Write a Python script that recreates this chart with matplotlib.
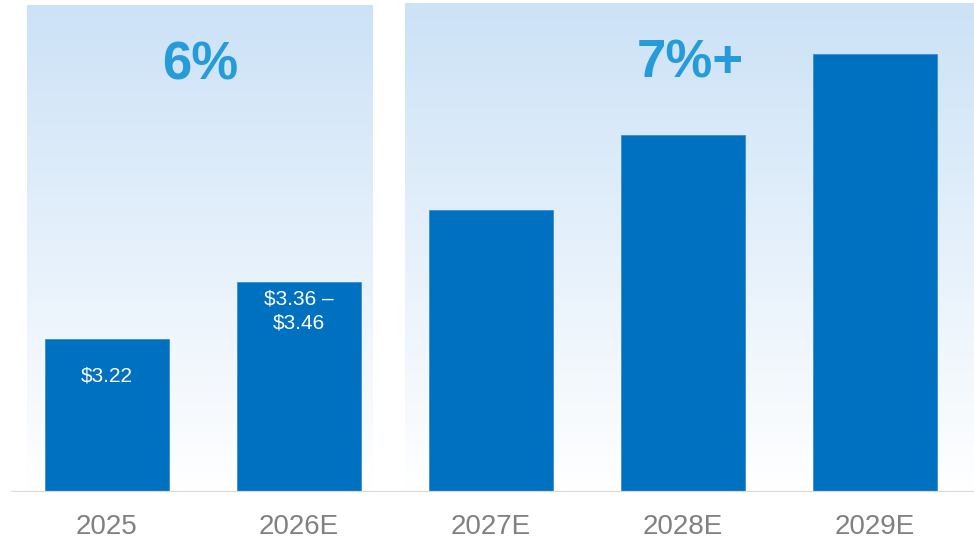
import matplotlib
matplotlib.use('Agg')

import matplotlib.pyplot as plt
import numpy as np
from matplotlib.colors import LinearSegmentedColormap

# Chart data
years = ['2025', '2026E', '2027E', '2028E', '2029E']
eps = [3.22, 3.41, 3.65, 3.90, 4.17]          # midpoint used for 2026E range
bar_labels = ['$3.22', '$3.36 –\n$3.46', '', '', '']
growth_labels = ['6%', '7%+']
growth_groups = [(0, 1), (2, 4)]               # first / last bar index of each panel

BASE = 2.71
TOP = 4.35

plt.rcParams['font.family'] = ['Liberation Sans', 'DejaVu Sans']

fig = plt.figure(figsize=(9.74, 5.39), dpi=100)
ax = fig.add_axes([11 / 974, (539 - 492) / 539, 963 / 974, 492 / 539])

x = np.arange(len(years))
ax.bar(x, np.array(eps) - BASE, bottom=BASE, width=0.645, color='#0070c0',
       edgecolor='#3a8ed2', linewidth=0.6, zorder=3)

# gradient panels behind the bars
grad_cmap = LinearSegmentedColormap.from_list('panel', ['#cce2f7', '#ffffff'])
grad = np.linspace(0, 1, 256).reshape(-1, 1)
panel_pads = [(0.417, 0.385, 4.33), (0.448, 0.52, 4.337)]
for (i0, i1), (lpad, rpad, ptop), txt in zip(growth_groups, panel_pads, growth_labels):
    left, right = i0 - lpad, i1 + rpad
    ax.imshow(grad, extent=(left, right, BASE, ptop), aspect='auto',
              cmap=grad_cmap, origin='upper', zorder=1)
    ax.text((left + right) / 2, ptop - 0.20, txt, ha='center', va='center',
            fontsize=38, fontweight='bold', color='#259bd9', zorder=4)

# value labels inside bars
offsets = [-26.5, -21, 0, 0, 0]
for xi, v, lab, off in zip(x, eps, bar_labels, offsets):
    if lab:
        ax.annotate(lab, (xi, v), xytext=(0, off), textcoords='offset points',
                    ha='center', va='center', color='white', fontsize=15,
                    linespacing=1.3, zorder=5)

ax.axhline(BASE, color='#d9d9d9', linewidth=1.6, zorder=4)

ax.set_xlim(-0.5, 4.516)
ax.set_ylim(BASE, TOP)
ax.set_xticks(x)
ax.set_xticklabels(years, fontsize=20, color='#808080')
ax.tick_params(axis='x', length=0, pad=16)
ax.set_yticks([])
for s in ax.spines.values():
    s.set_visible(False)

fig.savefig('out.png', dpi=100)
